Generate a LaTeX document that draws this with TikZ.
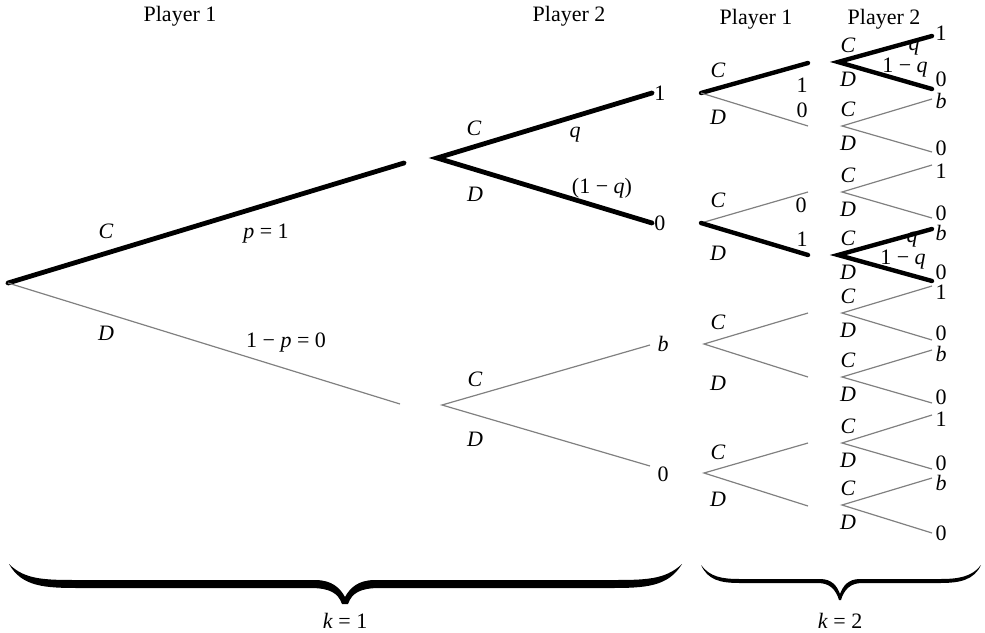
\documentclass[tikz,border=0pt]{standalone}
\usepackage{fontspec}
\setmainfont{Liberation Serif}
\newcommand\Iv[1]{\textit{#1}}
\begin{document}
\begin{tikzpicture}[x=0.5pt,y=-0.5pt,
  font=\fontsize{11}{13}\selectfont,
  heavy/.style={line width=2.4pt,line cap=round},
  heavyr/.style={line width=2.2pt,line cap=round},
  light/.style={line width=0.6pt,draw=black!50},
  lab/.style={inner sep=0pt,anchor=center},
  title/.style={inner sep=0pt,anchor=base}]
\useasboundingbox (0,0) rectangle (985,632);
% titles
\node[title] (t1) at (180,21) {Player 1};
\node[title] (t2) at (569,21) {Player 2};
\node[title] (t3) at (756,24) {Player 1};
\node[title] (t4) at (884,24) {Player 2};
% ---------- stage 1, player 1
\coordinate (r) at (8,283);
\coordinate (a1) at (404,163);
\coordinate (a2) at (400,404);
\draw[heavy] (r) -- (a1);
\draw[light] (r) -- (a2);
\node[lab] (lC) at (106,231) {\Iv{C}};
\node[lab] (lp) at (266,234) {\Iv{p} = 1};
\node[lab] (lD) at (106,333) {\Iv{D}};
\node[lab] (lq) at (286,343) {1 − \Iv{p} = 0};
% ---------- stage 1, player 2 (top)
\coordinate (b) at (437,158);
\coordinate (b1) at (652,93);
\coordinate (b2) at (652,223);
\draw[heavy] (b1) -- (b) -- (b2);
\node[lab] (bC) at (474,128) {\Iv{C}};
\node[lab] (bq) at (575,135) {\Iv{q}};
\node[lab] (bD) at (475,194) {\Iv{D}};
\node[lab] (bq2) at (602,188) {(1 − \Iv{q})};
\node[inner sep=1pt,anchor=west] (b1t) at (b1) {1};
\node[inner sep=1pt,anchor=west] (b2t) at (b2) {0};
% ---------- stage 1, player 2 (bottom)
\coordinate (c) at (442,405);
\coordinate (c1) at (650,345);
\coordinate (c2) at (650,466);
\draw[light] (c1) -- (c) -- (c2);
\node[lab] (cC) at (475,379) {\Iv{C}};
\node[lab] (cD) at (475,439) {\Iv{D}};
\node[lab] (c1t) at (663,344) {\Iv{b}};
\node[lab] (c2t) at (663,474) {0};
% ---------- stage 2, player 1
\coordinate (d) at (701,93);  \coordinate (d1) at (808,63);  \coordinate (d2) at (808,126);
\coordinate (e) at (701,223); \coordinate (e1) at (808,192); \coordinate (e2) at (808,255);
\coordinate (f) at (704,344); \coordinate (f1) at (808,313); \coordinate (f2) at (808,377);
\coordinate (g) at (704,473); \coordinate (g1) at (808,443); \coordinate (g2) at (808,506);
\draw[heavyr] (d) -- (d1);
\draw[light] (d) -- (d2);
\draw[light] (e) -- (e1);
\draw[heavyr] (e) -- (e2);
\draw[light] (f1) -- (f) -- (f2);
\draw[light] (g1) -- (g) -- (g2);
\node[lab] (dC) at (718,70) {\Iv{C}};
\node[lab] (dD) at (718,117) {\Iv{D}};
\node[lab] (d1t) at (802,85) {1};
\node[lab] (d2t) at (802,110) {0};
\node[lab] (eC) at (718,200) {\Iv{C}};
\node[lab] (eD) at (718,253) {\Iv{D}};
\node[lab] (e1t) at (801,205) {0};
\node[lab] (e2t) at (802,239) {1};
\node[lab] (fC) at (718,322) {\Iv{C}};
\node[lab] (fD) at (718,383) {\Iv{D}};
\node[lab] (gC) at (718,452) {\Iv{C}};
\node[lab] (gD) at (718,499) {\Iv{D}};
% ---------- stage 2, player 2
\foreach \n/\x/\y/\ya/\yb/\st/\ta/\tb/\la/\lb in {
  1/838/62/36/89/heavyr/1/0/33/79,
  2/842/126/99/152/light/{\Iv{b}}/0/101/148,
  3/842/192/165/218/light/1/0/171/213,
  4/838/255/229/281/heavyr/{\Iv{b}}/0/233/272,
  5/842/313/286/340/light/1/0/292/333,
  6/842/377/350/403/light/{\Iv{b}}/0/354/397,
  7/842/443/415/469/light/1/0/419/463,
  8/842/505/478/533/light/{\Iv{b}}/0/483/533}{
  \coordinate (h\n) at (\x,\y);
  \coordinate (h\n a) at (932,\ya);
  \coordinate (h\n b) at (932,\yb);
  \draw[\st] (h\n a) -- (h\n) -- (h\n b);
  \node[lab] (h\n C) at (848,\y-17) {\Iv{C}};
  \node[lab] (h\n D) at (848,\y+17) {\Iv{D}};
  \node[lab] (h\n at) at (941,\la) {\ta};
  \node[lab] (h\n bt) at (941,\lb) {\tb};
}
\node[lab] (h1q) at (914,48) {\Iv{q}};
\node[lab] (h1r) at (905,68) {1 − \Iv{q}};
\node[lab] (h4q) at (912,240) {\Iv{q}};
\node[lab] (h4r) at (903,260) {1 − \Iv{q}};
% ---------- braces
\fill (9,564) .. controls (25,580) and (45,580) .. (80,580) -- (315,580)
  .. controls (332,580) and (340,588) .. (345,597)
  .. controls (350,588) and (358,580) .. (375,580) -- (610,580)
  .. controls (645,580) and (665,580) .. (682,564)
  .. controls (668,587) and (645,588) .. (610,588) -- (380,588)
  .. controls (360,588) and (352,593) .. (348,604) -- (342,604)
  .. controls (338,593) and (330,588) .. (310,588) -- (80,588)
  .. controls (45,588) and (22,587) .. (9,564) -- cycle;
\fill (701,565) .. controls (710,577) and (722,579) .. (740,579) -- (820,579)
  .. controls (832,579) and (837,586) .. (840,594)
  .. controls (843,586) and (848,579) .. (860,579) -- (940,579)
  .. controls (958,579) and (972,577) .. (981,565)
  .. controls (974,580) and (960,583) .. (940,583) -- (862,583)
  .. controls (850,583) and (844,590) .. (841,600) -- (839,600)
  .. controls (836,590) and (830,583) .. (818,583) -- (740,583)
  .. controls (720,583) and (708,580) .. (701,565) -- cycle;
\node[lab] (k1) at (345,621) {\Iv{k} = 1};
\node[lab] (k2) at (840,621) {\Iv{k} = 2};
\end{tikzpicture}
\end{document}
